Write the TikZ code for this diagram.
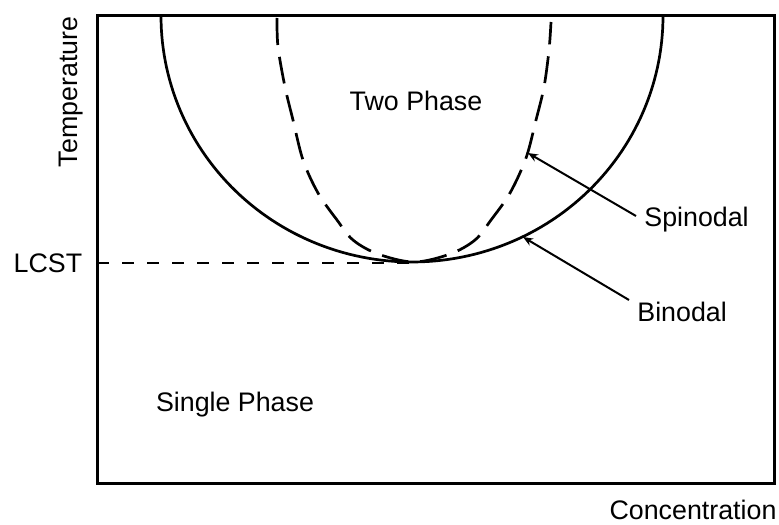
\documentclass[tikz,border=0pt]{standalone}
\usepackage{fontspec}
\setmainfont{Liberation Sans}
\usetikzlibrary{positioning,arrows.meta}

\begin{document}
\begin{tikzpicture}[
  x=0.5pt, y=-0.5pt,
  font=\fontsize{13.4}{15}\selectfont,
  every node/.style={font=\fontsize{13.4}{15}\selectfont},
  frame/.style={draw=black, line width=1.5pt},
  curve/.style={line width=1.35pt},
  spin/.style={curve, dash pattern=on 13.5pt off 6pt},
  lcstline/.style={line width=1.1pt, dash pattern=on 6pt off 6.5pt},
  pointer/.style={-{Stealth[length=5pt,width=4pt]}, line width=1pt},
  lbl/.style={inner sep=4pt, anchor=west}
]
\useasboundingbox (0,0) rectangle (779,524);

% Axes frame
\draw[frame] (97,16) rectangle (774,483);

% Binodal and spinodal curves
\draw[curve] plot[domain=180:0, samples=120] ({412+251*cos(\x)}, {16+246*sin(\x)});
\draw[spin] plot[smooth, tension=0.55] coordinates {(277,18) (278,47) (285,87) (293,120) (303,160) (318,193) (337,220) (353,240) (378,254) (414,262)
  (450,254) (475,240) (491,220) (510,193) (526,158) (536,120) (544,87) (549,50) (551,22)};

% LCST line
\node (lcst) at (48,263) {LCST};
\coordinate (crit) at (415,263);
\draw[lcstline] (97,263) -- (crit);

% Region labels
\node (twophase) at (416,101) {Two Phase};
\node (singlephase) at (235,405) {Single Phase};

% Curve labels with pointers
\node[lbl] (spinodal) at (636,220) {Spinodal};
\node[lbl] (binodal) at (629,312) {Binodal};
\coordinate (spintip) at (528,153);
\coordinate (bintip) at (523,237);
\draw[pointer] ([yshift=2pt]spinodal.west) -- (spintip);
\draw[pointer] ([yshift=6pt]binodal.west) -- (bintip);

% Axis labels
\node[rotate=90] (temperature) at (71,92) {Temperature};
\node (concentration) at (693,510) {Concentration};

\end{tikzpicture}
\end{document}
